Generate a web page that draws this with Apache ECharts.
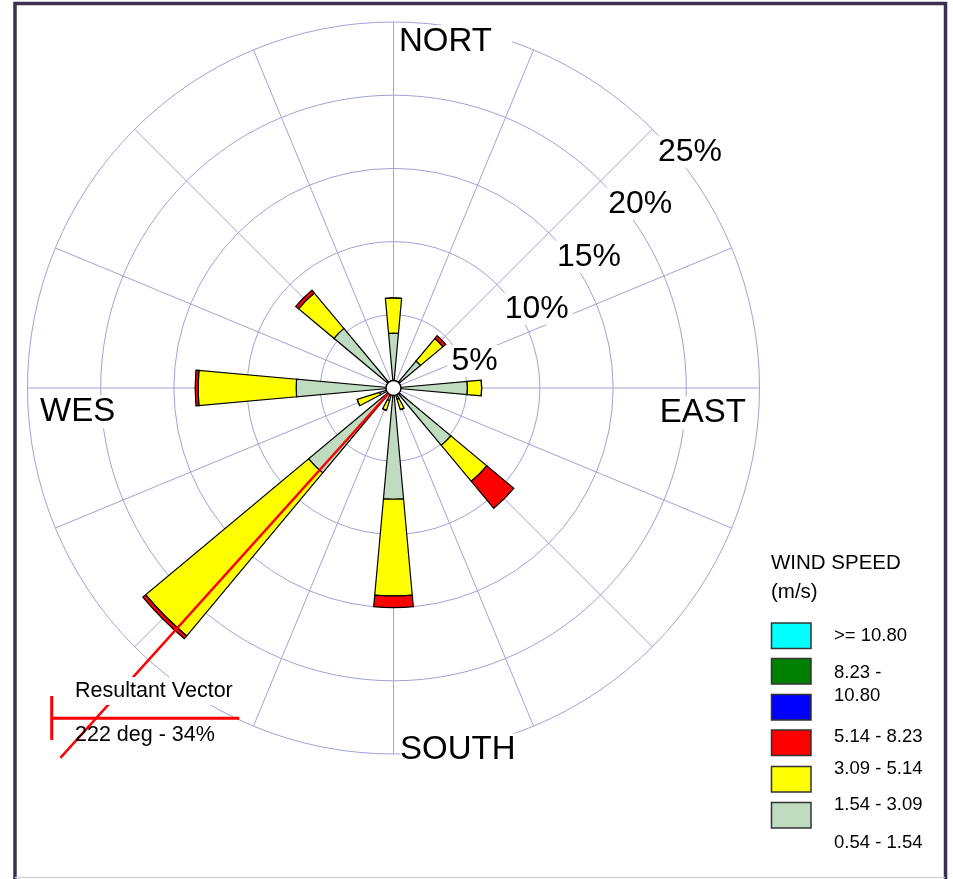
<!DOCTYPE html>
<html>
<head>
<meta charset="utf-8">
<script src="https://cdn.jsdelivr.net/npm/echarts@6/dist/echarts.min.js"></script>
<style>
  html, body { margin: 0; padding: 0; background: #ffffff; }
  #chart { width: 953px; height: 879px; }
</style>
</head>
<body>
<div id="chart"></div>
<script>
// Wind directions, clockwise from north
const directions = ['N', 'NNE', 'NE', 'ENE', 'E', 'ESE', 'SE', 'SSE', 'S', 'SSW', 'SW', 'WSW', 'W', 'WNW', 'NW', 'NNW'];

// Frequency (%) of each speed class per direction, stacked outward from the centre
const speed154to309 = [3.75, 0, 2.4, 0, 5.05, 0, 5.1, 0.8, 7.6, 0.9, 7.55, 1.0, 6.65, 0, 5.3, 0];
const speed309to514 = [2.4, 0, 2.0, 0, 0.97, 0, 3.2, 0.75, 6.6, 0.7, 14.5, 1.6, 6.7, 0, 3.15, 0];
const speed514to823 = [0, 0, 0.25, 0, 0, 0, 2.4, 0, 0.8, 0, 0.25, 0, 0.2, 0, 0.25, 0];

// Ring ticks and their labels
const ringMax = 25;
const ringStep = 5;
const ringLabels = ['5%', '10%', '15%', '20%', '25%'];

// Compass labels
const northLabel = 'NORT';
const eastLabel = 'EAST';
const southLabel = 'SOUTH';
const westLabel = 'WES';

// Legend entries (top to bottom)
const legendTitle = 'WIND SPEED';
const legendUnit = '(m/s)';
const legendLabels = ['>= 10.80', '8.23 -\n10.80', '5.14 - 8.23', '3.09 - 5.14', '1.54 - 3.09', '0.54 - 1.54'];
const legendColors = ['#00ffff', '#008000', '#0000ff', '#ff0000', '#ffff00', '#c0dcc0'];

// Resultant vector
const resultantDeg = 222;
const resultantPct = 34;

// ---- layout / style ----
const CX = 393.5, CY = 388, R = 366;
const FONT = '"Liberation Sans", Arial, Helvetica, sans-serif';
const gridColor = '#a2a2d8';
const classColors = { low: '#c0dcc0', mid: '#ffff00', high: '#ff0000' };
const ringLabelPos = [[474.5, 361], [536.7, 308.7], [589, 256.7], [640.3, 203.8], [690, 151.7]];
const legendBoxTops = [623, 658.5, 694.5, 730, 766.5, 802.5];
const legendLabelY = [636, 684.5, 737, 769, 804.5, 843];
// the vector polar reaches twice as far so the resultant can run past the outer ring
const vectorScale = 2;

const chart = echarts.init(document.getElementById('chart'), null, { renderer: 'canvas' });

const barItem = (color) => ({ color: color, borderColor: '#000000', borderWidth: 1.2 });

const graphics = [];

// frame
graphics.push({
  type: 'rect', z: 30,
  shape: { x: 15, y: 3.5, width: 930.5, height: 900 },
  style: { fill: 'none', stroke: '#3d2f4f', lineWidth: 3.5 }
});
graphics.push({
  type: 'line', z: 30,
  shape: { x1: 15, y1: 877.5, x2: 945, y2: 877.5 },
  style: { stroke: '#d4d4d4', lineWidth: 1.5 }
});

// compass labels
const compassText = (text, x, y, align, padding) => ({
  type: 'text', z: 10, x: x, y: y,
  style: {
    text: text, font: '33px ' + FONT, fill: '#000000',
    align: align, verticalAlign: 'middle',
    backgroundColor: '#ffffff', padding: padding
  }
});
graphics.push(compassText(northLabel, 399, 41.5, 'left', [0, 20, 0, 0]));
graphics.push(compassText(westLabel, 38, 412, 'left', [0, 2, 0, 2]));
graphics.push(compassText(eastLabel, 750, 413, 'right', [0, 4, 0, 2]));
graphics.push(compassText(southLabel, 400, 750, 'left', [0, 4, 0, 0]));

// ring labels
ringLabels.forEach((t, i) => {
  graphics.push({
    type: 'text', z: 10, x: ringLabelPos[i][0], y: ringLabelPos[i][1],
    style: {
      text: t, font: '32px ' + FONT, fill: '#000000',
      align: 'center', verticalAlign: 'middle',
      backgroundColor: '#ffffff', padding: [0, 4]
    }
  });
});

// legend
graphics.push({
  type: 'text', z: 10, x: 771, y: 563,
  style: { text: legendTitle, font: '20.5px ' + FONT, fill: '#000000', verticalAlign: 'middle' }
});
graphics.push({
  type: 'text', z: 10, x: 771, y: 592,
  style: { text: legendUnit, font: '20.5px ' + FONT, fill: '#000000', verticalAlign: 'middle' }
});
legendColors.forEach((c, i) => {
  graphics.push({
    type: 'rect', z: 10,
    shape: { x: 771.5, y: legendBoxTops[i], width: 39.5, height: 25.5 },
    style: { fill: c, stroke: '#333333', lineWidth: 1.5 }
  });
});
legendLabels.forEach((t, i) => {
  graphics.push({
    type: 'text', z: 10, x: 834, y: legendLabelY[i],
    style: { text: t, font: '18.5px ' + FONT, fill: '#000000', verticalAlign: 'middle', lineHeight: 23 }
  });
});

// resultant vector key
graphics.push({
  type: 'text', z: 10, x: 75, y: 691,
  style: {
    text: 'Resultant Vector', font: '21.5px ' + FONT, fill: '#000000',
    verticalAlign: 'middle', backgroundColor: '#ffffff', padding: [3, 0]
  }
});
graphics.push({
  type: 'line', z: 9,
  shape: { x1: 51.7, y1: 718.3, x2: 239.3, y2: 718.3 },
  style: { stroke: '#ff0000', lineWidth: 3 }
});
graphics.push({
  type: 'line', z: 9,
  shape: { x1: 51.7, y1: 696, x2: 51.7, y2: 740 },
  style: { stroke: '#ff0000', lineWidth: 3 }
});
graphics.push({
  type: 'text', z: 10, x: 75, y: 735,
  style: {
    text: resultantDeg + ' deg - ' + resultantPct + '%', font: '21.5px ' + FONT,
    fill: '#000000', verticalAlign: 'middle'
  }
});

const hiddenAxisParts = {
  axisLine: { show: false }, axisTick: { show: false }, axisLabel: { show: false }
};

const option = {
  animation: false,
  backgroundColor: '#ffffff',
  polar: [
    { center: [CX, CY], radius: R },
    { center: [CX, CY], radius: R },
    { center: [CX, CY], radius: R * vectorScale }
  ],
  angleAxis: [
    Object.assign({
      polarIndex: 0, type: 'value', min: 0, max: 360, interval: 22.5,
      startAngle: 90, clockwise: true,
      splitLine: { show: true, lineStyle: { color: gridColor, width: 1 } },
      splitArea: { show: false }
    }, hiddenAxisParts),
    Object.assign({
      polarIndex: 1, type: 'category', data: directions,
      startAngle: 90 + 360 / directions.length / 2, clockwise: true, boundaryGap: true,
      splitLine: { show: false }, splitArea: { show: false }
    }, hiddenAxisParts),
    Object.assign({
      polarIndex: 2, type: 'value', min: 0, max: 360, interval: 22.5,
      startAngle: 90, clockwise: true,
      splitLine: { show: false }, splitArea: { show: false }
    }, hiddenAxisParts)
  ],
  radiusAxis: [
    Object.assign({
      polarIndex: 0, type: 'value', min: 0, max: ringMax, interval: ringStep,
      splitLine: { show: true, lineStyle: { color: gridColor, width: 1 } },
      splitArea: { show: false }
    }, hiddenAxisParts),
    Object.assign({
      polarIndex: 1, type: 'value', min: 0, max: ringMax, interval: ringStep,
      splitLine: { show: false }, splitArea: { show: false }
    }, hiddenAxisParts),
    Object.assign({
      polarIndex: 2, type: 'value', min: 0, max: ringMax * vectorScale, interval: ringStep,
      splitLine: { show: false }, splitArea: { show: false }
    }, hiddenAxisParts)
  ],
  series: [
    {
      name: '1.54 - 3.09', type: 'bar', coordinateSystem: 'polar', polarIndex: 1,
      stack: 'speed', barWidth: '46%', data: speed154to309,
      itemStyle: barItem(classColors.low)
    },
    {
      name: '3.09 - 5.14', type: 'bar', coordinateSystem: 'polar', polarIndex: 1,
      stack: 'speed', barWidth: '46%', data: speed309to514,
      itemStyle: barItem(classColors.mid)
    },
    {
      name: '5.14 - 8.23', type: 'bar', coordinateSystem: 'polar', polarIndex: 1,
      stack: 'speed', barWidth: '46%', data: speed514to823,
      itemStyle: barItem(classColors.high)
    },
    {
      name: 'Resultant Vector', type: 'line', coordinateSystem: 'polar', polarIndex: 2,
      data: [[0, resultantDeg], [resultantPct, resultantDeg]],
      clip: false, symbol: 'none', silent: true, z: 3,
      lineStyle: { color: '#ff0000', width: 2.5 }
    },
    {
      name: 'Calm', type: 'scatter', coordinateSystem: 'polar', polarIndex: 0,
      data: [[0, 0]], symbol: 'circle', symbolSize: 15, silent: true, z: 4,
      itemStyle: { color: '#ffffff', opacity: 1, borderColor: '#000000', borderWidth: 1.4 }
    }
  ],
  graphic: graphics
};

chart.setOption(option);
</script>
</body>
</html>
